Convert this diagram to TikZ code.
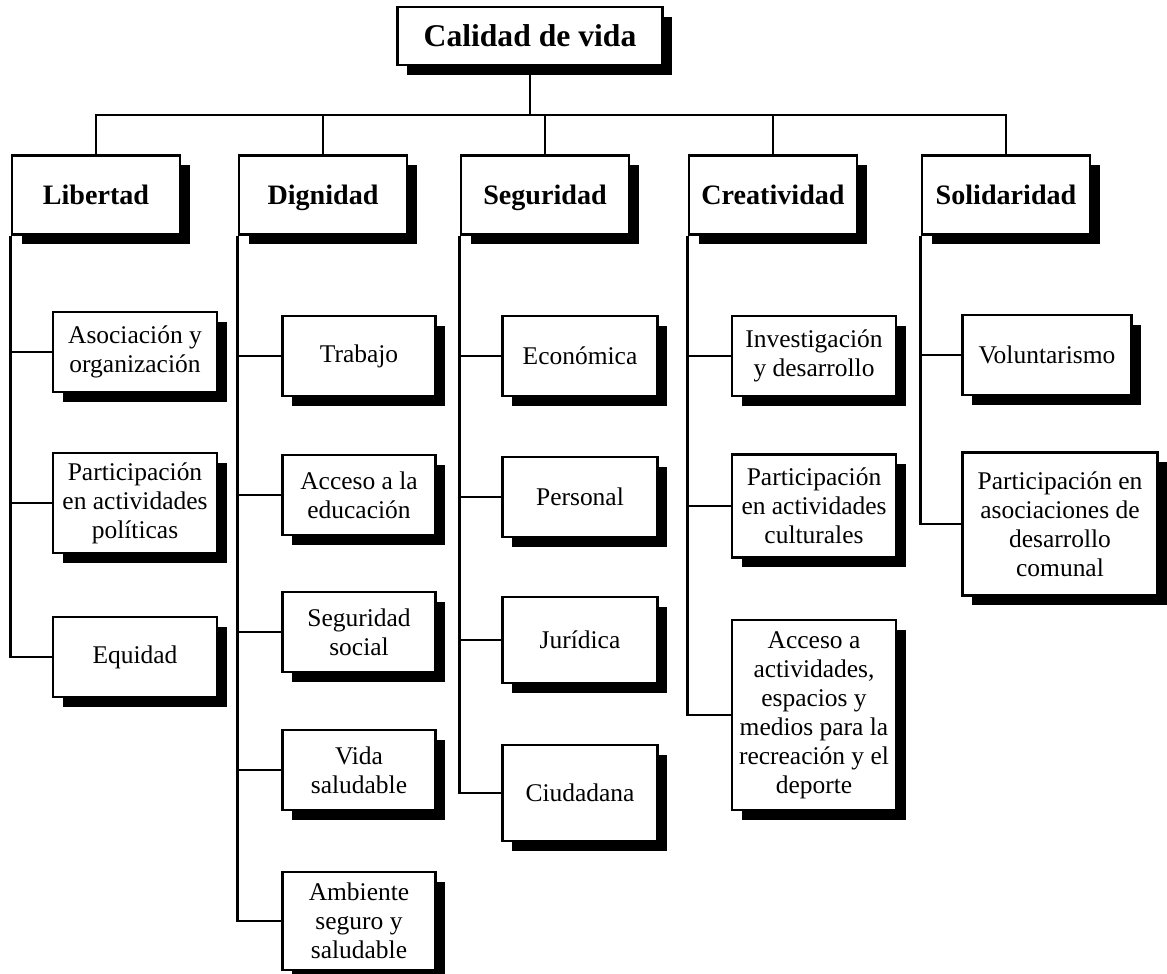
\documentclass[tikz,border=0pt]{standalone}
\usepackage{fontspec}
\setmainfont{Liberation Serif}
\usetikzlibrary{shadows}

\begin{document}
\begin{tikzpicture}[x=0.02cm, y=-0.02cm,
			caja/.style={draw, line width=1.6pt, fill=white, align=center, inner sep=2pt,
				drop shadow={shadow xshift=5.5pt, shadow yshift=-5.5pt, fill=black, opacity=1}},
			raiz/.style={caja, minimum width=5.3cm, minimum height=1.16cm, text height=11.5pt, text depth=0pt,
				font=\fontsize{18}{21}\selectfont\bfseries},
			eje/.style={caja, minimum width=3.36cm, minimum height=1.58cm, text height=10.6pt, text depth=0pt,
				font=\fontsize{16}{19}\selectfont\bfseries},
			hoja/.style={caja, minimum width=#1, minimum height=1.6cm, font=\fontsize{14.5}{16.5}\selectfont},
			linea/.style={line width=1.4pt}]
			
			\useasboundingbox (0,0) rectangle (1167,974);
			
			\node[raiz] (cal) at (530,36) {Calidad de vida};
			
			\node[eje] (lib) at (96,195) {Libertad};
			\node[eje] (dig) at (323,195) {Dignidad};
			\node[eje] (seg) at (545,195) {Seguridad};
			\node[eje] (cre) at (773,195) {Creatividad};
			\node[eje] (sol) at (1006,195) {Solidaridad};
			
			% Libertad
			\node[hoja=3.28cm] (aso) at (135,352) {Asociación y\\organización};
			\node[hoja=3.28cm, minimum height=2cm] (pol) at (135,503) {Participación\\en actividades\\políticas};
			\node[hoja=3.28cm] (equ) at (135,657) {Equidad};
			
			% Dignidad
			\node[hoja=3.06cm] (tra) at (359,356) {Trabajo};
			\node[hoja=3.06cm] (edu) at (359,495) {Acceso a la\\educación};
			\node[hoja=3.06cm] (soc) at (359,632) {Seguridad\\social};
			\node[hoja=3.06cm] (vid) at (359,770) {Vida\\saludable};
			\node[hoja=3.06cm, minimum height=1.96cm] (amb) at (359,921) {Ambiente\\seguro y\\saludable};
			
			% Seguridad
			\node[hoja=3.1cm] (eco) at (580,356) {Económica};
			\node[hoja=3.1cm] (per) at (580,497) {Personal};
			\node[hoja=3.1cm, minimum height=1.72cm] (jur) at (580,640) {Jurídica};
			\node[hoja=3.1cm, minimum height=1.92cm] (ciu) at (580,793) {Ciudadana};
			
			% Creatividad
			\node[hoja=3.28cm] (inv) at (814,356) {Investigación\\y desarrollo};
			\node[hoja=3.28cm, minimum height=2.06cm] (cul) at (814,506) {Participación\\en actividades\\culturales};
			\node[hoja=3.28cm, minimum height=3.8cm] (rec) at (814,715) {Acceso a\\actividades,\\espacios y\\medios para la\\recreación y el\\deporte};
			
			% Solidaridad
			\node[hoja=3.38cm] (vol) at (1047,355) {Voluntarismo};
			\node[hoja=3.9cm, minimum height=2.86cm] (com) at (1060,524) {Participación en\\asociaciones de\\desarrollo\\comunal};
			
			\coordinate (bus) at (0,115);
			\draw[linea] (cal.south) -- (cal.south |- bus);
			\draw[linea] (lib.north) |- (bus -| sol.north) -- (sol.north);
			\foreach \n in {dig,seg,cre}
				\draw[linea] (\n.north) -- (\n.north |- bus);
			
			\foreach \h/\c in {lib/aso,lib/pol,lib/equ,dig/tra,dig/edu,dig/soc,dig/vid,dig/amb,
				seg/eco,seg/per,seg/jur,seg/ciu,cre/inv,cre/cul,cre/rec,sol/vol,sol/com}
				\draw[linea] (\h.south west) |- (\c.west);
			
\end{tikzpicture}
\end{document}
